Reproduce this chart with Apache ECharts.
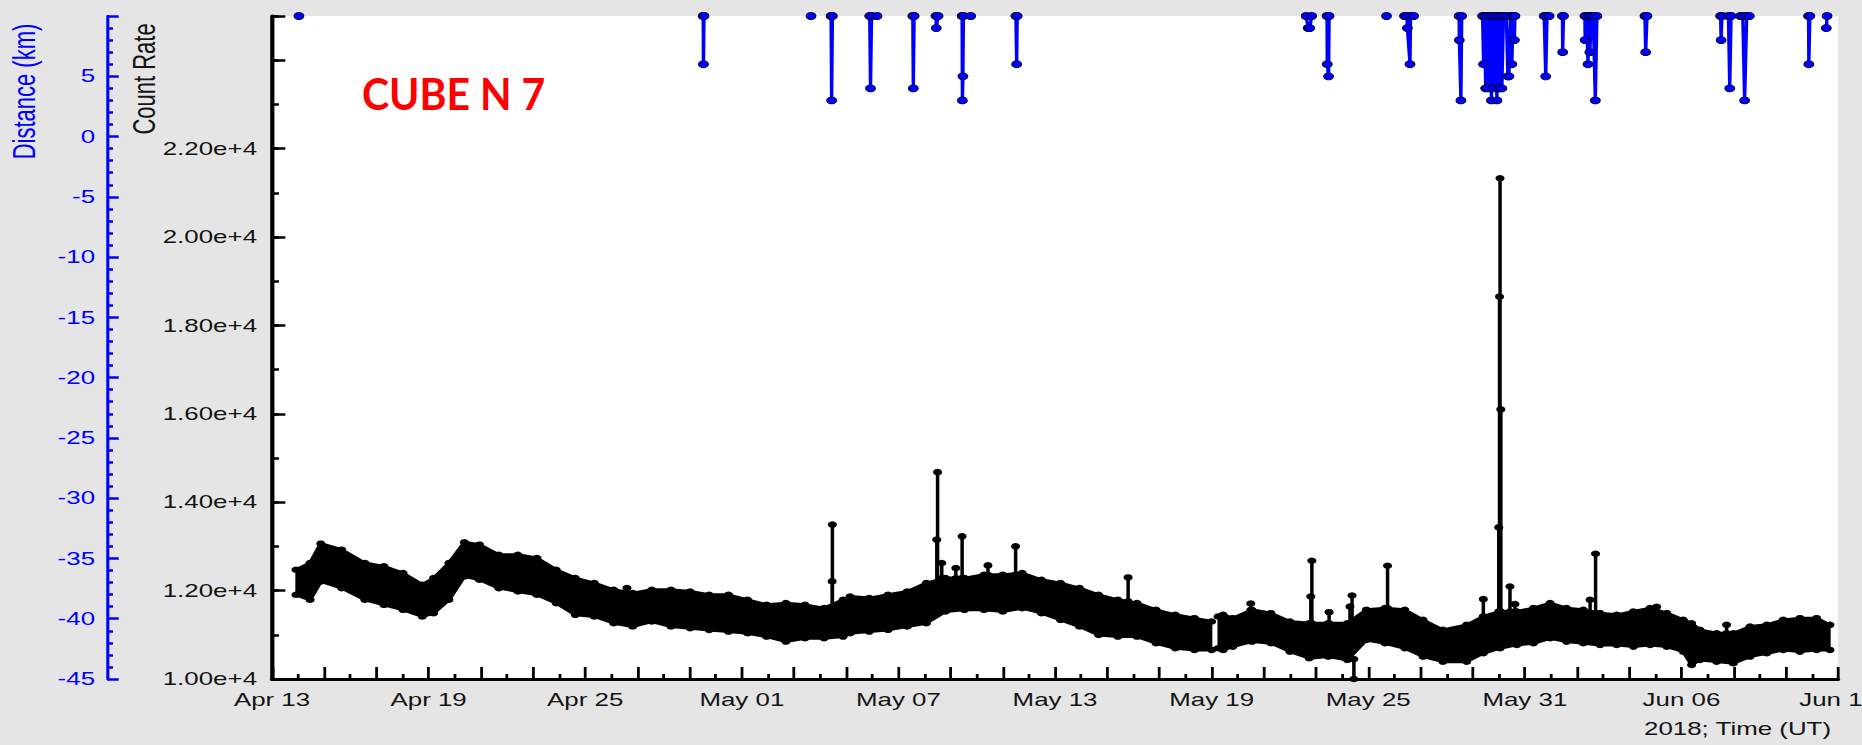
<!DOCTYPE html>
<html>
<head>
<meta charset="utf-8">
<title>CUBE N 7 - Count Rate</title>
<script src="https://cdn.jsdelivr.net/npm/echarts@6.0.0/dist/echarts.min.js"></script>
<style>
html, body { margin:0; padding:0; background:#e5e5e5; overflow:hidden; }
#chart { width:1330px; height:745px; transform:scaleX(1.4); transform-origin:0 0; }
</style>
</head>
<body>
<div id="chart"></div>
<script>
// ---------------- data (x = days since 2018-04-13 00:00 UT) ----------------
const xTickLabels = ['Apr 13','Apr 19','Apr 25','May 01','May 07','May 13','May 19','May 25','May 31','Jun 06','Jun 12'];
const rateTickValues = [10000, 12000, 14000, 16000, 18000, 20000, 22000];
const rateTickLabels = ['1.00e+4','1.20e+4','1.40e+4','1.60e+4','1.80e+4','2.00e+4','2.20e+4'];
const distTickValues = [-45, -40, -35, -30, -25, -20, -15, -10, -5, 0, 5];

// upper / lower envelope of the dense count-rate trace (null = data gap)
const bandDays = [0.92,1.46,1.87,2.67,3.56,4.29,5.02,5.76,6.19,6.78,7.37,7.95,8.69,9.42,10.15,10.89,11.62,12.35,13.09,13.82,14.55,15.29,16.02,16.75,17.49,18.22,18.95,19.69,20.42,21.15,21.88,22.15,22.88,23.6,24.34,25.07,25.8,26.53,27.28,28.0,28.74,29.48,30.21,30.94,31.67,32.41,33.14,33.87,34.61,35.34,36.0,36.12,36.25,36.44,36.81,37.54,38.27,39.0,39.74,40.47,41.2,41.93,42.64,43.4,44.1,44.86,45.77,46.41,47.05,47.69,48.33,48.97,49.6,50.24,50.88,51.52,52.16,52.8,53.44,54.07,54.39,54.71,55.35,55.99,56.63,57.27,57.9,58.54,59.18,59.69];
const bandHigh = [12472,12624,13062,12926,12623,12548,12397,12132,12283,12623,13092,13039,12812,12812,12737,12472,12283,12170,12019,11943,12019,12019,11981,11905,11905,11792,11678,11716,11678,11603,11792,11867,11830,11905,11981,12170,12283,12283,12359,12359,12397,12245,12170,12056,11905,11792,11716,11565,11452,11376,11300,null,11414,11452,11376,11565,11489,11300,11262,11262,11262,11565,11603,11565,11338,11111,11225,11414,11527,11527,11603,11716,11603,11565,11490,11452,11527,11603,11490,11338,11262,11111,11036,11036,11187,11225,11338,11376,11376,11225];
const bandLow = [11905,11792,12208,12056,11792,11678,11565,11414,11489,11792,12321,12245,12056,11981,11905,11716,11452,11414,11262,11187,11300,11187,11149,11111,11073,11036,10960,10847,10922,10922,10960,11036,11073,11111,11187,11262,11527,11565,11565,11527,11603,11489,11338,11187,10998,10960,10960,10809,10696,10658,10658,null,10696,10658,10733,10847,10809,10620,10469,10507,10431,10884,10809,10696,10507,10393,10393,10582,10696,10771,10809,10922,10846,10809,10771,10771,10733,10771,10733,10620,10318,10431,10393,10355,10507,10582,10658,10620,10658,10658];

// isolated count-rate spikes: day, level they rise from, level they reach
const spikeDays = [13.6,21.46,21.47,25.47,25.5,25.66,26.2,26.44,27.43,28.49,32.8,37.5,39.8,39.84,40.5,41.3,41.38,41.45,42.74,46.41,47.0,47.03,47.05,47.08,47.43,47.62,50.5,50.71,53.05,55.73];
const spikeBase = [11940,11600,11600,12170,12170,12280,12280,12283,12359,12359,11760,11560,11262,11262,11262,11262,11262,10450,11603,11414,11527,11527,11527,11527,11527,11527,11500,11490,11500,11036];
const spikePeak = [12060,12208,13493,13152,14680,12624,12510,13228,12570,13001,12298,11708,11867,12676,11512,11640,11890,10000,12563,11807,13430,18650,21330,16100,12094,11694,11792,12835,11633,11225];

// distance (km), null = break between excursions
const distDays = [1.03,1.03, 16.52,16.53,16.55,16.55, 20.65,20.65, 21.42,21.44,21.47,21.47, 22.90,22.93,22.97,23.18,23.18, 24.55,24.57,24.60,24.60, 25.44,25.45,25.52,25.52, 26.44,26.45,26.47,26.49,26.77,26.77, 28.50,28.53,28.55,28.55, 39.62,39.70,39.76,39.83,39.83, 40.42,40.43,40.48,40.50,40.50, 42.70,42.70, 43.39,43.48,43.50,43.60,43.62,43.74,43.74, 45.48,45.49,45.55,45.58,45.58, 46.38,46.42,46.45,46.50,46.55,46.60,46.65,46.72,46.76,46.82,46.87,46.93,46.98,47.03,47.07,47.12,47.18,47.29,47.35,47.39,47.45,47.50,47.55,47.60,47.62,47.62, 48.74,48.80,48.85,48.93,48.93, 49.44,49.45,49.48,49.48, 50.30,50.31,50.36,50.42,50.45,50.49,50.55,50.62,50.70,50.76,50.76, 52.60,52.63,52.68,52.68, 55.50,55.52,55.55,55.55, 55.80,55.85,55.90,55.90, 56.26,56.35,56.42,56.50,56.60,56.60, 58.87,58.88,58.92,58.92, 59.55,59.58];
const distKm = [10,null, 10,6,10,null, 10,null, 10,3,10,null, 10,4,10,10,null, 10,4,10,null, 10,9,10,null, 10,3,5,10,10,null, 10,6,10,null, 10,9,9,10,null, 10,6,5,10,null, 10,null, 10,10,9,6,10,10,null, 10,8,3,10,null, 10,6,10,4,10,4,10,3,10,4,10,3,10,4,10,4,10,10,5,5,10,6,10,8,10,null, 10,5,10,10,null, 10,7,10,null, 10,8,10,6,10,7,10,10,3,10,null, 10,7,10,null, 10,8,10,null, 10,4,10,null, 10,10,3,10,10,null, 10,6,10,null, 9,10];

// ---------------- build series data ----------------
const highData = bandDays.map((d, i) => [d, bandHigh[i] == null ? '-' : bandHigh[i]]);
const lowData = bandDays.map((d, i) => [d, bandLow[i] == null ? '-' : bandLow[i]]);
const bandSegs = [];
for (let i = 0; i < bandDays.length - 1; i++) {
  if (bandHigh[i] == null || bandHigh[i + 1] == null) continue;
  bandSegs.push([bandDays[i], bandHigh[i], bandLow[i], bandDays[i + 1], bandHigh[i + 1], bandLow[i + 1]]);
}
const spikeData = [];
spikeDays.forEach((d, i) => { spikeData.push([d, spikeBase[i]], [d, spikePeak[i]], [d, '-']); });
const distData = distDays.map((d, i) => [d, distKm[i] == null ? '-' : distKm[i]]);

const FONT = '"Liberation Sans", Arial, sans-serif';
const TXT = '#141414';
const BLUE = '#0000ff';

const chart = echarts.init(document.getElementById('chart'), null, { renderer: 'svg' });
chart.setOption({
  animation: false,
  backgroundColor: '#e5e5e5',
  textStyle: { fontFamily: FONT },
  grid: { left: 194.3, right: 17.1, top: 16, bottom: 66, show: true, backgroundColor: '#ffffff', borderWidth: 0, containLabel: false, outerBoundsMode: 'none' },
  xAxis: {
    type: 'value', min: 0, max: 60, interval: 2, z: 4,
    axisLine: { onZero: false, lineStyle: { color: '#000', width: 3 } },
    axisTick: { inside: true, length: 12, lineStyle: { color: '#000', width: 2 } },
    minorTick: { show: true, splitNumber: 2, length: 5, lineStyle: { color: '#000', width: 2 } },
    splitLine: { show: false }, minorSplitLine: { show: false },
    axisLabel: {
      margin: 11, fontSize: 18.5, color: TXT, fontFamily: FONT, showMinLabel: true, showMaxLabel: true,
      formatter: v => (Math.round(v) % 6 === 0 ? (xTickLabels[Math.round(v) / 6] || '') : '')
    }
  },
  yAxis: [
    {
      type: 'value', min: 10000, max: 25000, interval: 2000, position: 'left', offset: 0, z: 4,
      axisLine: { show: true, onZero: false, lineStyle: { color: '#000', width: 3 } },
      axisTick: { show: true, inside: true, length: 9.5, lineStyle: { color: '#000', width: 2.5 } },
      splitLine: { show: false },
      axisLabel: {
        margin: 10.7, fontSize: 18.5, color: TXT, fontFamily: FONT, showMinLabel: true, showMaxLabel: true,
        formatter: v => { const k = rateTickValues.indexOf(v); return k >= 0 ? rateTickLabels[k] : ''; }
      }
    },
    {
      type: 'value', min: 10000, max: 25000, interval: 1000, position: 'left', offset: 0, z: 4,
      axisLine: { show: false, onZero: false },
      axisTick: { show: true, inside: true, length: 5, lineStyle: { color: '#000', width: 2.5 } },
      axisLabel: { show: false }, splitLine: { show: false }
    },
    {
      type: 'value', min: -45, max: 10, interval: 5, position: 'left', offset: 117.9,
      axisLine: { show: true, onZero: false, lineStyle: { color: BLUE, width: 2.2 } },
      axisTick: { show: true, inside: true, length: 8.4, lineStyle: { color: BLUE, width: 2.5 } },
      minorTick: { show: true, splitNumber: 5, length: 4.3, lineStyle: { color: BLUE, width: 2.5 } },
      splitLine: { show: false }, minorSplitLine: { show: false },
      axisLabel: {
        margin: 8.5, fontSize: 18.5, color: BLUE, fontFamily: FONT, showMinLabel: true, showMaxLabel: true,
        formatter: v => (distTickValues.indexOf(v) >= 0 ? String(v) : '')
      }
    }
  ],
  series: [
    {
      name: 'Count Rate band', type: 'custom', yAxisIndex: 0, data: bandSegs, silent: true,
      encode: { x: [0, 3], y: [1, 2, 4, 5] }, z: 2,
      renderItem: (params, api) => {
        const a = api.coord([api.value(0), api.value(1)]);
        const b = api.coord([api.value(3), api.value(4)]);
        const c = api.coord([api.value(3), api.value(5)]);
        const d = api.coord([api.value(0), api.value(2)]);
        return { type: 'polygon', shape: { points: [a, b, c, d] }, style: { fill: '#000', stroke: '#000', lineWidth: 1 } };
      }
    },
    {
      name: 'Count Rate', type: 'line', yAxisIndex: 0, data: highData,
      symbol: 'circle', symbolSize: 6.5, showSymbol: true, connectNulls: false,
      itemStyle: { color: '#000' }, lineStyle: { color: '#000', width: 3 }, z: 3
    },
    {
      name: 'Count Rate (lower envelope)', type: 'line', yAxisIndex: 0, data: lowData,
      symbol: 'circle', symbolSize: 6.5, showSymbol: true, connectNulls: false,
      itemStyle: { color: '#000' }, lineStyle: { color: '#000', width: 3 }, z: 3
    },
    {
      name: 'Count Rate spikes', type: 'line', yAxisIndex: 0, data: spikeData,
      symbol: 'circle', symbolSize: 6.5, showSymbol: true, connectNulls: false, clip: false,
      itemStyle: { color: '#000' }, lineStyle: { color: '#000', width: 2.5 }, z: 5
    },
    {
      name: 'Distance', type: 'line', yAxisIndex: 2, data: distData,
      symbol: 'circle', symbolSize: 7, showSymbol: true, connectNulls: false, clip: false,
      itemStyle: { color: BLUE, borderColor: '#000033', borderWidth: 0.8 },
      lineStyle: { color: BLUE, width: 2.4 }, z: 6
    }
  ],
  graphic: [
    { type: 'text', x: 17.7, y: 91.5, rotation: Math.PI / 2,
      style: { text: 'Distance (km)', fill: BLUE, font: '22px ' + FONT, align: 'center', verticalAlign: 'middle', textAlign: 'center', textVerticalAlign: 'middle' } },
    { type: 'text', x: 103.1, y: 79, rotation: Math.PI / 2,
      style: { text: 'Count Rate', fill: TXT, font: '22px ' + FONT, align: 'center', verticalAlign: 'middle', textAlign: 'center', textVerticalAlign: 'middle' } },
    { type: 'text', x: 1307.9, y: 728.6,
      style: { text: '2018; Time (UT)', fill: TXT, font: '18.5px ' + FONT, align: 'right', verticalAlign: 'middle', textAlign: 'right', textVerticalAlign: 'middle' } },
    { type: 'text', x: 258.6, y: 94, scaleX: 0.68, z: 10,
      style: { text: 'CUBE N 7', fill: '#ff0000', font: 'bold 43px Lato, "Open Sans", sans-serif', align: 'left', verticalAlign: 'middle', textAlign: 'left', textVerticalAlign: 'middle' } }
  ]
});
</script>
</body>
</html>
